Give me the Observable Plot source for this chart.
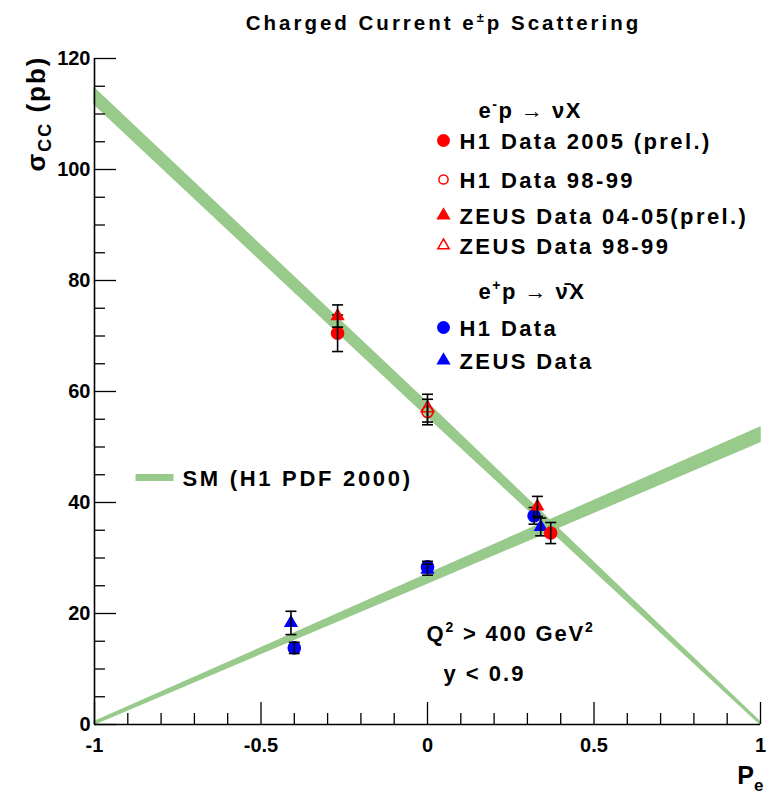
<!DOCTYPE html>
<html><head><meta charset="utf-8">
<script src="https://cdn.jsdelivr.net/npm/d3@7"></script>
<script src="https://cdn.jsdelivr.net/npm/@observablehq/plot@0.6"></script>
<style>body{margin:0;background:#fff} svg{display:block}</style>
</head><body><div id="chart"></div>
<script>
// ---- axis ticks ----
const xMajor = [-1, -0.5, 0, 0.5, 1];
const xMinor = [-0.9,-0.8,-0.7,-0.6,-0.4,-0.3,-0.2,-0.1,0.1,0.2,0.3,0.4,0.6,0.7,0.8,0.9];
const yMajor = [0, 20, 40, 60, 80, 100, 120];
const yMinor = [5,10,15,25,30,35,45,50,55,65,70,75,85,90,95,105,110,115];

// ---- SM prediction bands (H1 PDF 2000) ----
const smP    = [-1, 0, 1];
const smEmLo = [111.7, 55.5, 0];
const smEmHi = [114.6, 57.9, 0.4];
const smEpLo = [0, 25.4, 50.9];
const smEpHi = [0.4, 27.0, 53.5];

// ---- measurements: polarisation, sigma (pb), error ----
const h1EmP = [-0.27, 0.37],  h1EmS = [70.5, 34.5],  h1EmE = [3.3, 1.9];   // H1 2005 (prel.) e-p
const h1OldEmP = [0],         h1OldEmS = [56.3],     h1OldEmE = [2.3];      // H1 98-99 e-p
const zeusEmP = [-0.27, 0.33], zeusEmS = [73.6, 39.3], zeusEmE = [2.0, 1.8]; // ZEUS 04-05 (prel.) e-p
const zeusOldEmP = [0],       zeusOldEmS = [57.0],   zeusOldEmE = [2.5];    // ZEUS 98-99 e-p
const h1EpP = [-0.40, 0, 0.32],  h1EpS = [13.8, 28.4, 37.6], h1EpE = [1.0, 1.0, 1.5]; // H1 e+p
const zeusEpP = [-0.41, 0, 0.34], zeusEpS = [18.3, 27.9, 35.6], zeusEpE = [2.1, 1.0, 1.6]; // ZEUS e+p

// ---- legend labels ----
const legendHeaders = ["e-p → νX", "e+p → ν̄X"];
const legendLabels = ["H1 Data 2005 (prel.)", "H1 Data 98-99", "ZEUS Data 04-05(prel.)", "ZEUS Data 98-99", "H1 Data", "ZEUS Data"];
const smLabel = "SM (H1 PDF 2000)";
const titleText = "Charged Current e±p Scattering";
const cutLabels = ["Q2 > 400 GeV2", "y < 0.9"];
const xLabel = "Pe";
const yLabel = "σCC (pb)";

// ---- styling / layout ----
const RED = "#ff0000", BLUE = "#0000ff", GREEN = "#98ca8c";
const FONT = "'Liberation Sans', Arial, Helvetica, sans-serif";
const FRAME = 666;                 // frame size in px (square)
const xPerPx = 2 / FRAME, yPerPx = 120 / FRAME;
const MAJOR = 22, MINOR = 11;      // tick lengths in px

const rows = (P, S, E) => P.map((p, i) => ({P: p, s: S[i], e: E[i]}));
const band = (lo, hi) => smP.map((p, i) => ({P: p, lo: lo[i], hi: hi[i]}));

const capSymbol = {draw(ctx, size) { const w = 5.5; ctx.moveTo(-w, 0); ctx.lineTo(w, 0); }};
const smSymbol = {draw(ctx, size) { ctx.rect(-19, -3.5, 38, 7); }};

function dataset(P, S, E, symbol, r, color, open) {
  const d = rows(P, S, E);
  return [
    Plot.dot(d, {x: "P", y: "s", symbol, r, fill: open ? "none" : color, stroke: open ? color : "none", strokeWidth: 1.6}),
    Plot.ruleX(d, {x: "P", y1: x => x.s - x.e, y2: x => x.s + x.e, stroke: "black", strokeWidth: 1.6}),
    Plot.dot(d, {x: "P", y: x => x.s + x.e, symbol: capSymbol, r: 5, fill: "none", stroke: "black", strokeWidth: 1.6}),
    Plot.dot(d, {x: "P", y: x => x.s - x.e, symbol: capSymbol, r: 5, fill: "none", stroke: "black", strokeWidth: 1.6})
  ];
}

// legend layout (pixel offsets from frame top-left)
const legMarkerDx = 349, legTextDx = 365, legHeaderDx = 384;
const legRowsDy = [90, 129, 165, 195, 277, 310];
const legHeadersDy = [59, 240];
const legSym = [["circle", 6.5, RED, false], ["circle", 4.6, RED, true], ["triangle", 5.3, RED, false], ["triangle", 4.2, RED, true], ["circle", 6.5, BLUE, false], ["triangle", 5.3, BLUE, false]];

const legendMarks = [];
legendLabels.forEach((lab, i) => {
  const [sym, r, col, open] = legSym[i];
  legendMarks.push(Plot.dot([lab], {frameAnchor: "top-left", dx: legMarkerDx, dy: legRowsDy[i] - 8, symbol: sym, r, fill: open ? "none" : col, stroke: open ? col : "none", strokeWidth: 1.5}));
  legendMarks.push(Plot.text([lab], {frameAnchor: "top-left", dx: legTextDx, dy: legRowsDy[i], text: d => d, textAnchor: "start", lineAnchor: "bottom", fontSize: 22, fontWeight: "bold", fill: "black"}));
});
legendHeaders.forEach((h, i) => {
  legendMarks.push(Plot.text([h], {frameAnchor: "top-left", dx: legHeaderDx, dy: legHeadersDy[i], text: d => d, textAnchor: "start", lineAnchor: "bottom", fontSize: 22, fontWeight: "bold", fill: "black"}));
});

const plot = Plot.plot({
  width: 769, height: 793,
  marginTop: 58, marginRight: 9, marginBottom: 69, marginLeft: 94,
  x: {domain: [-1, 1]},
  y: {domain: [0, 120]},
  style: {fontFamily: FONT, background: "#fff", overflow: "visible", color: "black"},
  marks: [
    Plot.areaY(band(smEmLo, smEmHi), {x: "P", y1: "lo", y2: "hi", fill: GREEN, stroke: GREEN, strokeWidth: 1.5}),
    Plot.areaY(band(smEpLo, smEpHi), {x: "P", y1: "lo", y2: "hi", fill: GREEN, stroke: GREEN, strokeWidth: 1.5}),
    Plot.ruleX(xMinor, {x: d => d, y1: 0, y2: MINOR * yPerPx, stroke: "black", strokeWidth: 1.3}),
    Plot.ruleX(xMajor, {x: d => d, y1: 0, y2: MAJOR * yPerPx, stroke: "black", strokeWidth: 1.3}),
    Plot.ruleY(yMinor, {y: d => d, x1: -1, x2: -1 + MINOR * xPerPx, stroke: "black", strokeWidth: 1.3}),
    Plot.ruleY(yMajor, {y: d => d, x1: -1, x2: -1 + MAJOR * xPerPx, stroke: "black", strokeWidth: 1.3}),
    Plot.ruleX([-1], {stroke: "black", strokeWidth: 1.6}),
    Plot.ruleY([0], {stroke: "black", strokeWidth: 1.6}),
    Plot.axisX(xMajor, {tickSize: 0, tickPadding: 13, tickFormat: d => String(d), fontSize: 20, fontWeight: "bold", label: null}),
    Plot.axisY(yMajor, {tickSize: 0, tickPadding: 4, tickFormat: d => String(d), fontSize: 20, fontWeight: "bold", label: null}),
    ...dataset(h1OldEmP, h1OldEmS, h1OldEmE, "circle", 5.5, RED, true),
    ...dataset(zeusOldEmP, zeusOldEmS, zeusOldEmE, "triangle", 4.6, RED, true),
    ...dataset(h1EpP, h1EpS, h1EpE, "circle", 6.8, BLUE, false),
    ...dataset(zeusEpP, zeusEpS, zeusEpE, "triangle", 5.3, BLUE, false),
    ...dataset(h1EmP, h1EmS, h1EmE, "circle", 6.8, RED, false),
    ...dataset(zeusEmP, zeusEmS, zeusEmE, "triangle", 5.3, RED, false),
    ...legendMarks,
    Plot.dot([smLabel], {frameAnchor: "top-left", dx: 60, dy: 419, symbol: smSymbol, r: 5, fill: GREEN, stroke: "none"}),
    Plot.text([smLabel], {frameAnchor: "top-left", dx: 88, dy: 427, text: d => d, textAnchor: "start", lineAnchor: "bottom", fontSize: 22, fontWeight: "bold", fill: "black"}),
    Plot.text([cutLabels[0]], {frameAnchor: "top-left", dx: 332, dy: 582, text: d => d, textAnchor: "start", lineAnchor: "bottom", fontSize: 22, fontWeight: "bold", fill: "black"}),
    Plot.text([cutLabels[1]], {frameAnchor: "top-left", dx: 349, dy: 622, text: d => d, textAnchor: "start", lineAnchor: "bottom", fontSize: 22, fontWeight: "bold", fill: "black"}),
    Plot.text([titleText], {frameAnchor: "top", dx: 16, dy: -29, text: d => d, textAnchor: "middle", lineAnchor: "bottom", fontSize: 20.5, fontWeight: "bold", fill: "black"}),
    Plot.text([xLabel], {frameAnchor: "bottom-right", dx: 3, dy: 59, text: d => d, textAnchor: "end", lineAnchor: "bottom", fontSize: 25, fontWeight: "bold", fill: "black"}),
    Plot.text([yLabel], {frameAnchor: "top-left", dx: -50, dy: -3, rotate: -90, text: d => d, textAnchor: "end", lineAnchor: "bottom", fontSize: 26, fontWeight: "bold", fill: "black"})
  ]
});

// rich-text touches: super/subscripts and letter spacing
const rich = {
  "Charged Current e±p Scattering": {ls: 3.0, html: 'Charged Current e<tspan dy="-8" font-size="13">±</tspan><tspan dy="8">p Scattering</tspan>'},
  "e-p → νX": {ls: 1.5, html: 'e<tspan dy="-9" font-size="14">-</tspan><tspan dy="9">p → νX</tspan>'},
  "e+p → ν̄X": {ls: 1.5, html: 'e<tspan dy="-9" font-size="14">+</tspan><tspan dy="9">p → ν̄X</tspan>'},
  "Q2 > 400 GeV2": {ls: 1.8, html: 'Q<tspan dy="-9" font-size="14">2</tspan><tspan dy="9"> &gt; 400 GeV</tspan><tspan dy="-9" font-size="14">2</tspan>'},
  "y < 0.9": {ls: 2.0},
  "σCC (pb)": {ls: 2, html: 'σ<tspan dy="6" font-size="18">CC</tspan><tspan dy="-6"> (pb)</tspan>'},
  "Pe": {ls: 0, html: 'P<tspan dy="7" font-size="17">e</tspan>'},
  "SM (H1 PDF 2000)": {ls: 2.7}
};
legendLabels.forEach(l => rich[l] = {ls: 2.4});
d3.select(plot).selectAll("text").each(function() {
  const r = rich[this.textContent];
  if (!r) return;
  if (r.ls) this.setAttribute("letter-spacing", r.ls);
  if (r.html) this.innerHTML = r.html;
});

document.getElementById("chart").appendChild(plot);
</script>
</body></html>
